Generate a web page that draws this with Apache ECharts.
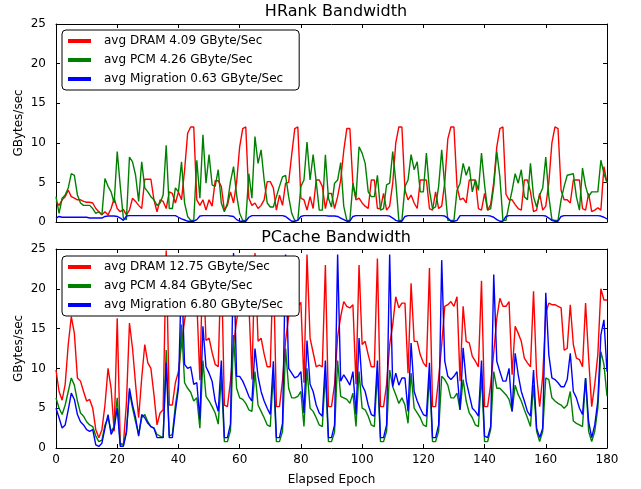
<!DOCTYPE html>
<html>
<head>
<meta charset="utf-8">
<script src="https://cdn.jsdelivr.net/npm/echarts@6/dist/echarts.min.js"></script>
<style>
  html, body { margin: 0; padding: 0; background: #fff; }
  #chart { width: 641px; height: 489px; }
</style>
</head>
<body>
<div id="chart"></div>
<script>
// HRank panel (GByte/sec per epoch, epoch 0..180)
const topDram = [
  2.6, 2.1, 2.8, 3.2, 4.0, 3.2, 3.0, 2.8, 2.8, 2.6,
  2.5, 2.5, 2.4, 1.7, 1.3, 0.9, 1.3, 0.9, 1.7, 3.0,
  1.7, 1.3, 1.6, 0.9, 1.5, 3.0, 2.6, 2.1, 1.7, 5.4,
  5.4, 5.4, 2.8, 1.3, 2.8, 2.6, 1.7, 3.8, 3.6, 2.4,
  3.8, 2.8, 6.5, 11.2, 12.0, 12.0, 2.8, 2.1, 2.8, 1.5,
  2.8, 2.0, 5.2, 5.2, 4.5, 1.5, 2.1, 3.8, 2.4, 5.0,
  9.5, 11.8, 12.0, 3.0, 2.1, 2.4, 1.7, 2.1, 2.8, 5.1,
  5.1, 4.3, 1.5, 3.4, 2.1, 4.9, 5.0, 8.5, 11.8, 12.0,
  3.0, 2.8, 1.5, 3.2, 1.7, 5.3, 5.3, 4.5, 1.7, 3.6,
  3.6, 1.7, 3.2, 5.3, 9.0, 11.8, 11.8, 4.7, 2.8, 3.0,
  2.4, 2.0, 1.7, 5.3, 5.3, 1.7, 1.7, 3.6, 1.5, 2.0,
  4.9, 10.0, 12.0, 12.0, 4.0, 2.8, 3.4, 2.4, 1.7, 5.3,
  5.3, 5.3, 1.7, 1.5, 3.8, 1.7, 2.0, 5.0, 10.5, 12.0,
  12.0, 4.5, 2.8, 3.0, 2.4, 5.3, 5.3, 5.3, 1.7, 1.5,
  3.6, 1.5, 2.2, 5.0, 9.5, 11.8, 12.0, 3.5, 2.8, 2.8,
  2.2, 1.7, 1.5, 5.3, 5.3, 3.8, 1.3, 1.5, 3.6, 1.5,
  2.0, 5.0, 10.0, 12.0, 11.8, 4.0, 2.8, 2.8, 2.4, 5.3,
  5.3, 5.3, 1.7, 1.5, 3.6, 1.3, 1.5, 1.8, 1.5, 7.0, 4.9
];
const topPcm = [
  3.2, 1.1, 3.0, 3.4, 4.3, 6.1, 5.9, 3.4, 2.4, 2.1,
  2.1, 2.1, 1.7, 1.1, 1.3, 0.9, 5.5, 4.5, 3.8, 2.4,
  8.9, 4.5, 0.5, 0.3, 8.2, 7.6, 5.9, 2.6, 7.6, 4.3,
  3.8, 3.2, 2.8, 2.1, 2.4, 3.4, 9.7, 1.7, 1.7, 4.3,
  3.8, 7.6, 2.4, 0.7, 0.2, 0.2, 7.8, 3.0, 11.0, 4.9,
  8.5, 4.7, 4.5, 6.6, 2.4, 1.3, 2.4, 5.1, 7.0, 3.4,
  1.1, 0.2, 0.2, 6.1, 3.0, 10.8, 7.4, 9.1, 5.3, 2.4,
  1.9, 1.9, 3.2, 4.5, 5.7, 5.9, 3.2, 1.1, 0.2, 0.2,
  4.5, 5.3, 10.1, 5.3, 8.5, 5.1, 1.5, 1.5, 8.5, 3.0,
  1.9, 4.9, 5.3, 7.5, 2.0, 0.2, 0.2, 4.9, 3.0, 9.5,
  8.7, 7.4, 3.8, 3.2, 3.2, 5.9, 1.5, 1.7, 4.7, 4.9,
  8.9, 5.1, 0.2, 0.2, 4.5, 5.3, 8.5, 6.6, 7.6, 3.8,
  3.8, 8.7, 4.0, 1.7, 1.9, 4.5, 9.1, 4.5, 0.2, 0.2,
  0.2, 4.0, 4.9, 7.4, 5.9, 7.0, 3.8, 5.3, 4.0, 8.7,
  4.7, 1.5, 1.7, 4.5, 8.9, 5.7, 0.2, 0.2, 2.2, 4.0,
  6.1, 4.9, 6.6, 3.2, 2.8, 7.4, 3.2, 1.9, 3.4, 4.3,
  8.2, 3.2, 0.3, 0.2, 0.2, 2.8, 4.5, 5.9, 6.0, 6.1,
  3.2, 1.5, 6.8, 4.5, 3.2, 3.8, 3.8, 3.8, 7.8, 6.1, 5.0
];
const topMig = [
  0.5, 0.7, 0.6, 0.6, 0.6, 0.6, 0.6, 0.6, 0.6, 0.6,
  0.6, 0.5, 0.5, 0.5, 0.5, 0.5, 0.7, 0.75, 0.75, 0.75,
  0.7, 0.5, 0.2, 0.75, 0.8, 0.8, 0.8, 0.8, 0.8, 0.8,
  0.8, 0.8, 0.8, 0.8, 0.8, 0.8, 0.8, 0.8, 0.8, 0.8,
  0.6, 0.4, 0.25, 0.1, 0.1, 0.1, 0.3, 0.75, 0.8, 0.8,
  0.8, 0.8, 0.8, 0.8, 0.8, 0.8, 0.8, 0.75, 0.7, 0.3,
  0.1, 0.1, 0.1, 0.6, 0.8, 0.8, 0.8, 0.8, 0.8, 0.8,
  0.8, 0.8, 0.8, 0.8, 0.8, 0.7, 0.4, 0.1, 0.1, 0.2,
  0.7, 0.8, 0.8, 0.8, 0.8, 0.8, 0.8, 0.8, 0.8, 0.75,
  0.75, 0.75, 0.7, 0.5, 0.3, 0.1, 0.1, 0.7, 0.8, 0.8,
  0.8, 0.8, 0.8, 0.8, 0.8, 0.8, 0.8, 0.8, 0.8, 0.75,
  0.5, 0.2, 0.1, 0.1, 0.7, 0.8, 0.8, 0.8, 0.8, 0.8,
  0.8, 0.8, 0.8, 0.8, 0.8, 0.8, 0.8, 0.75, 0.5, 0.1,
  0.1, 0.2, 0.8, 0.8, 0.8, 0.8, 0.8, 0.8, 0.8, 0.8,
  0.8, 0.8, 0.75, 0.6, 0.3, 0.1, 0.1, 0.7, 0.8, 0.8,
  0.8, 0.8, 0.8, 0.8, 0.8, 0.8, 0.8, 0.8, 0.8, 0.8,
  0.75, 0.5, 0.2, 0.1, 0.1, 0.7, 0.8, 0.8, 0.8, 0.8,
  0.8, 0.8, 0.8, 0.8, 0.8, 0.8, 0.8, 0.8, 0.75, 0.6, 0.4
];

// PCache panel
const botDram = [
  9.8, 7.1, 6.0, 8.0, 13.0, 16.5, 14.4, 8.8, 8.4, 7.1,
  5.9, 6.1, 5.0, 2.3, 1.3, 2.3, 5.4, 10.0, 7.5, 2.1,
  16.3, 0.6, 0.4, 5.6, 15.7, 12.5, 8.0, 3.8, 8.8, 13.0,
  10.7, 10.0, 6.7, 2.9, 4.4, 4.8, 24.8, 5.4, 5.4, 8.2,
  9.6, 13.0, 16.0, 18.5, 18.0, 17.5, 18.5, 8.5, 24.0, 13.5,
  13.8, 12.0, 10.5, 10.2, 24.0, 5.4, 5.2, 8.4, 13.0, 16.0,
  18.2, 17.5, 17.8, 18.2, 8.6, 24.5, 13.4, 13.8, 11.8, 10.2,
  10.2, 23.5, 5.2, 5.2, 8.5, 13.5, 16.5, 18.6, 18.0, 17.8,
  18.3, 8.2, 24.3, 13.8, 12.0, 10.2, 10.4, 10.2, 23.0, 5.2,
  5.2, 8.0, 14.0, 16.5, 18.4, 17.8, 17.6, 18.0, 8.0, 23.0,
  13.0, 13.4, 11.7, 10.2, 10.2, 23.8, 5.2, 5.2, 8.0, 13.0,
  15.5, 19.0, 17.6, 18.2, 18.2, 9.4, 20.7, 13.4, 13.4, 11.7,
  10.7, 10.2, 22.6, 5.2, 5.2, 8.8, 13.0, 17.8, 18.0, 18.4,
  17.8, 19.0, 8.4, 17.8, 13.4, 13.2, 11.5, 10.9, 10.2, 21.0,
  5.2, 5.2, 8.0, 12.0, 16.3, 18.8, 17.8, 17.8, 18.4, 9.2,
  15.3, 14.4, 13.4, 11.3, 10.7, 10.2, 19.7, 9.2, 5.2, 9.0,
  17.0, 18.2, 18.0, 18.0, 17.8, 17.6, 12.3, 12.5, 18.0, 13.0,
  11.3, 11.1, 10.2, 18.2, 11.3, 5.2, 8.0, 11.7, 20.0, 18.6, 18.6
];
const botPcm = [
  6.3, 5.0, 4.2, 5.4, 7.1, 8.8, 7.9, 5.9, 4.4, 4.0,
  3.3, 2.9, 2.7, 1.5, 0.8, 1.0, 2.9, 3.8, 2.1, 2.7,
  6.3, 0.4, 0.4, 2.1, 7.1, 5.0, 3.3, 1.7, 3.8, 4.2,
  3.3, 2.7, 2.5, 1.7, 1.5, 1.3, 12.3, 1.5, 1.7, 5.4,
  7.9, 15.5, 8.2, 7.5, 7.0, 5.9, 6.3, 2.5, 11.0, 6.5,
  5.9, 5.2, 4.4, 3.0, 9.0, 0.8, 0.8, 2.2, 14.2, 7.5,
  6.3, 6.1, 5.6, 4.8, 4.6, 9.6, 5.4, 4.6, 3.8, 2.9,
  2.7, 9.4, 0.8, 0.8, 2.1, 12.5, 7.5, 6.3, 6.3, 6.5,
  7.1, 2.7, 10.0, 5.0, 4.6, 3.8, 2.9, 2.7, 9.4, 0.8,
  0.8, 2.0, 11.0, 6.5, 6.3, 6.1, 5.6, 6.9, 2.7, 9.6,
  5.0, 4.8, 4.0, 2.9, 2.7, 9.6, 0.8, 0.8, 2.1, 9.8,
  7.7, 6.7, 5.6, 6.3, 5.4, 3.1, 9.4, 5.0, 4.4, 3.8,
  2.9, 2.7, 9.2, 0.8, 0.8, 2.1, 9.0, 8.6, 7.9, 6.3,
  6.3, 6.9, 4.8, 8.6, 5.9, 4.4, 3.8, 2.9, 2.7, 9.2,
  0.8, 0.8, 2.3, 9.6, 7.5, 7.5, 7.1, 6.7, 6.1, 4.6,
  7.9, 6.7, 5.9, 4.8, 3.8, 2.7, 7.9, 2.1, 0.8, 2.1,
  8.8, 8.6, 6.3, 5.9, 5.6, 5.4, 5.0, 5.4, 7.1, 3.4,
  3.1, 2.9, 2.7, 8.8, 2.1, 0.8, 2.1, 5.0, 12.1, 10.5, 6.5
];
const botMig = [
  5.0, 3.8, 2.5, 2.9, 4.8, 6.9, 6.1, 4.2, 3.3, 2.9,
  2.3, 2.1, 2.3, 0.4, 0.2, 0.6, 2.5, 4.2, 1.7, 2.5,
  5.0, 0.2, 0.2, 1.9, 7.5, 5.4, 3.8, 1.5, 4.2, 3.8,
  3.1, 2.7, 2.5, 1.3, 1.3, 1.3, 10.7, 1.3, 1.3, 4.6,
  7.5, 22.0, 10.5, 10.0, 10.2, 8.0, 8.2, 3.6, 15.3, 10.2,
  9.4, 8.4, 5.9, 4.6, 11.0, 1.3, 1.3, 3.0, 24.5, 9.0,
  9.0, 8.4, 7.5, 6.5, 5.9, 12.5, 9.0, 7.1, 5.9, 5.0,
  4.2, 10.9, 1.3, 1.3, 3.1, 24.3, 10.0, 9.4, 8.8, 9.0,
  9.6, 4.4, 13.5, 8.0, 7.1, 5.4, 4.4, 4.0, 11.0, 1.3,
  1.3, 2.9, 24.3, 8.4, 9.2, 8.6, 7.9, 9.6, 4.2, 13.8,
  7.9, 7.1, 5.4, 4.2, 4.0, 11.0, 1.3, 1.3, 2.9, 24.3,
  7.7, 9.4, 7.9, 8.8, 8.8, 4.6, 13.2, 7.1, 5.9, 5.0,
  4.2, 4.0, 10.7, 1.3, 1.3, 2.9, 23.6, 10.9, 9.0, 8.6,
  9.0, 9.6, 4.8, 12.6, 8.4, 6.7, 5.0, 4.6, 4.0, 11.0,
  1.5, 1.3, 2.7, 21.8, 10.9, 9.6, 8.4, 8.4, 10.0, 4.6,
  11.9, 9.2, 7.1, 5.9, 4.6, 4.0, 9.8, 2.5, 1.3, 2.5,
  19.5, 11.7, 8.8, 8.6, 8.2, 7.7, 7.7, 8.6, 11.9, 7.1,
  6.3, 5.0, 4.2, 8.8, 3.3, 1.3, 2.9, 5.9, 14.2, 16.1, 9.6
];

const topNames = ["avg DRAM 4.09 GByte/Sec", "avg PCM 4.26 GByte/Sec", "avg Migration 0.63 GByte/Sec"];
const botNames = ["avg DRAM 12.75 GByte/Sec", "avg PCM 4.84 GByte/Sec", "avg Migration 6.80 GByte/Sec"];
const titles = ["HRank Bandwidth", "PCache Bandwidth"];
const colors = ["#ff0000", "#008000", "#0000ff"];

const font = "DejaVu Sans";

const chart = echarts.init(document.getElementById("chart"), null, { renderer: "canvas" });

const toPairs = (arr) => arr.map((v, i) => [i, v]);

const xAx = (grid, pos, labels, name) => ({
  type: "value", gridIndex: grid, position: pos, min: 0, max: 180, interval: 20,
  name: name || "", nameLocation: "middle", nameGap: 26,
  nameTextStyle: { fontFamily: font, fontSize: 12, color: "#000" },
  axisLine: { show: true, onZero: false, lineStyle: { color: "#000", width: 1 } },
  axisTick: { show: true, inside: true, length: 4, lineStyle: { color: "#000" } },
  axisLabel: { show: labels, margin: 6, fontFamily: font, fontSize: 12, color: "#000" },
  splitLine: { show: false }
});
const yAx = (grid, pos, labels) => ({
  type: "value", gridIndex: grid, position: pos, min: 0, max: 25, interval: 5,
  name: labels ? "GBytes/sec" : "", nameLocation: "middle", nameGap: 31, nameRotate: 90,
  nameMoveOverlap: false,
  nameTextStyle: { fontFamily: font, fontSize: 12, color: "#000" },
  axisLine: { show: true, onZero: false, lineStyle: { color: "#000", width: 1 } },
  axisTick: { show: true, inside: true, length: 4, lineStyle: { color: "#000" } },
  axisLabel: { show: labels, margin: 10, fontFamily: font, fontSize: 12, color: "#000" },
  splitLine: { show: false }
});

const line = (name, data, color, axisIdx) => ({
  name: name, type: "line", data: toPairs(data),
  xAxisIndex: axisIdx, yAxisIndex: axisIdx,
  showSymbol: false, symbol: "none", smooth: false,
  lineStyle: { color: color, width: 1.4 }, itemStyle: { color: color },
  clip: true
});

const legendCfg = (names, top) => ({
  data: names, orient: "vertical", left: 62, top: top,
  icon: "rect", itemWidth: 23, itemHeight: 4, itemGap: 5,
  padding: [4, 16, 4, 6],
  backgroundColor: "#fff", borderColor: "#000", borderWidth: 1, borderRadius: 4,
  selectedMode: false,
  textStyle: { fontFamily: font, fontSize: 12, color: "#000", lineHeight: 14, padding: [0, 0, 0, 8] }
});

const option = {
  animation: false,
  backgroundColor: "#fff",
  title: [
    { text: titles[0], left: 331, top: -1, textAlign: "center",
      textStyle: { fontFamily: font, fontSize: 16, fontWeight: "normal", color: "#000" } },
    { text: titles[1], left: 331, top: 225, textAlign: "center",
      textStyle: { fontFamily: font, fontSize: 16, fontWeight: "normal", color: "#000" } }
  ],
  legend: [legendCfg(topNames, 30), legendCfg(botNames, 256)],
  grid: [
    { left: 56, right: 34, top: 24, height: 198 },
    { left: 56, right: 34, top: 249, height: 199 }
  ],
  xAxis: [
    xAx(0, "bottom", false), xAx(0, "top", false),
    xAx(1, "bottom", true, "Elapsed Epoch"), xAx(1, "top", false)
  ],
  yAxis: [
    yAx(0, "left", true), yAx(0, "right", false),
    yAx(1, "left", true), yAx(1, "right", false)
  ],
  series: [
    line(topNames[0], topDram, colors[0], 0),
    line(topNames[1], topPcm, colors[1], 0),
    line(topNames[2], topMig, colors[2], 0),
    line(botNames[0], botDram, colors[0], 2),
    line(botNames[1], botPcm, colors[1], 2),
    line(botNames[2], botMig, colors[2], 2)
  ]
};

chart.setOption(option);
</script>
</body>
</html>
